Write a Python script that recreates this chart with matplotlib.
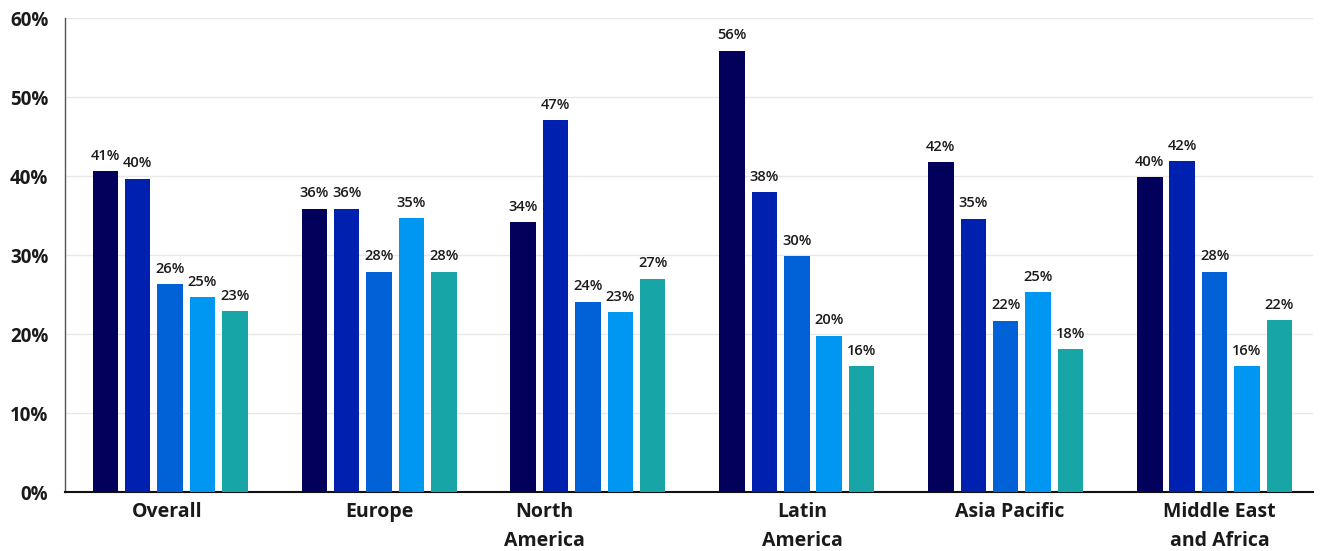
import matplotlib
matplotlib.use("Agg")
import matplotlib.pyplot as plt
import numpy as np

regions = ["Overall", "Europe", "North\nAmerica", "Latin\nAmerica", "Asia Pacific", "Middle East\nand Africa"]
series_1 = [40.6, 35.9, 34.2, 55.9, 41.8, 39.9]
series_2 = [39.7, 35.9, 47.1, 38.0, 34.6, 41.9]
series_3 = [26.3, 27.9, 24.1, 29.9, 21.7, 27.9]
series_4 = [24.7, 34.7, 22.8, 19.8, 25.3, 15.9]
series_5 = [22.9, 27.9, 27.0, 15.9, 18.1, 21.8]
y_ticks = [0, 10, 20, 30, 40, 50, 60]

series = [series_1, series_2, series_3, series_4, series_5]
colors = ["#03005C", "#0020B0", "#0062D6", "#0097F2", "#17A5A8"]

plt.rcParams["font.family"] = ["Open Sans", "DejaVu Sans"]

fig = plt.figure(figsize=(13.22, 5.51), dpi=100)
ax = fig.add_axes([0.0492, 0.107, 0.9438, 0.860])

x = np.arange(len(regions))
pitch = 0.155
width = 0.122
for i, (vals, c) in enumerate(zip(series, colors)):
    xs = x + (i - 2) * pitch
    ax.bar(xs, vals, width=width, color=c, zorder=3)
    for xi, v in zip(xs, vals):
        ax.annotate(f"{v:.0f}%", (xi, v), xytext=(0, 6), textcoords="offset points",
                    ha="center", va="bottom", fontsize=10.5, fontweight="semibold",
                    color="#1a1a1a", zorder=4)

ax.set_ylim(0, 60)
ax.set_xlim(-0.503, 5.47)
ax.set_yticks(y_ticks)
ax.set_yticklabels([f"{t}%" for t in y_ticks], fontsize=13.5, fontweight="bold", color="#1a1a1a")
ax.yaxis.grid(True, color="#e8e8e8", linewidth=1, zorder=0)
ax.set_axisbelow(True)
ax.tick_params(axis="y", length=0, pad=12)

# category labels drawn as text so each can be nudged on its own
ax.set_xticks([])
label_shift = [-0.015, 0.0, -0.21, 0.025, 0.02, 0.025]
for xi, name, dx in zip(x, regions, label_shift):
    ax.text(xi + dx, -1.3, name, ha="center", va="top", fontsize=14,
            fontweight="bold", color="#1a1a1a", linespacing=1.55)

for s in ["top", "right"]:
    ax.spines[s].set_visible(False)
ax.spines["left"].set_color("#555555")
ax.spines["left"].set_linewidth(1.0)
ax.spines["bottom"].set_color("#111111")
ax.spines["bottom"].set_linewidth(1.5)

fig.savefig("out.png", dpi=100)
